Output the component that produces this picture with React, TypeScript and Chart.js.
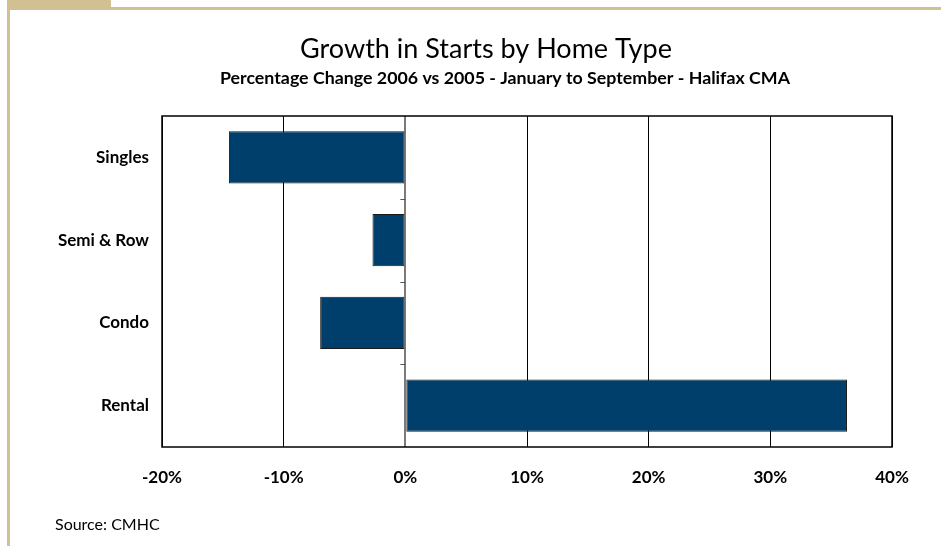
import React, { useEffect, useRef } from "react";
import { Chart, registerables } from "chart.js";

Chart.register(...registerables);

const categories = ["Singles", "Semi & Row", "Condo", "Rental"];
const changeValues = [-14.5, -2.7, -7.0, 36.3];
const xTickValues = [-20, -10, 0, 10, 20, 30, 40];
const titleText = "Growth in Starts by Home Type";
const subtitleText = "Percentage Change 2006 vs 2005 - January to September - Halifax CMA";
const sourceText = "Source: CMHC";

const FONT = "Lato, 'Open Sans', sans-serif";
const TAN = "#d0c092";

const framePlugin = {
  id: "frame",
  afterDraw(chart: any) {
    const { ctx, chartArea, scales } = chart;
    const xs = scales.x;
    const ys = scales.y;
    ctx.save();
    const x0 = xs.getPixelForValue(0);
    ctx.strokeStyle = "#555";
    ctx.lineWidth = 1;
    for (let i = 0; i < categories.length - 1; i++) {
      const y = (ys.getPixelForValue(i) + ys.getPixelForValue(i + 1)) / 2;
      ctx.beginPath();
      ctx.moveTo(x0 - 5, Math.round(y) + 0.5);
      ctx.lineTo(x0, Math.round(y) + 0.5);
      ctx.stroke();
    }
    ctx.strokeStyle = "#000";
    ctx.lineWidth = 1.5;
    ctx.strokeRect(chartArea.left, chartArea.top, chartArea.right - chartArea.left, chartArea.bottom - chartArea.top);

    // titles
    ctx.fillStyle = "#000";
    ctx.textAlign = "center";
    ctx.textBaseline = "alphabetic";
    ctx.font = `normal 27px ${FONT}`;
    ctx.fillText(titleText, 486, 58);
    ctx.font = `bold 17.8px ${FONT}`;
    ctx.fillText(subtitleText, 505, 84);
    ctx.restore();
  },
};

export default function App() {
  const ref = useRef<HTMLCanvasElement>(null);
  useEffect(() => {
    if (!ref.current) return;
    const chart = new Chart(ref.current, {
      type: "bar",
      data: {
        labels: categories,
        datasets: [
          {
            data: changeValues,
            backgroundColor: "#003f6b",
            borderColor: "#1a1a1a",
            borderWidth: 1,
            borderSkipped: false,
            barPercentage: 0.63,
            categoryPercentage: 1,
          },
        ],
      },
      options: {
        indexAxis: "y",
        animation: false,
        responsive: false,
        maintainAspectRatio: false,
        layout: { padding: { left: 0, right: 49, top: 116, bottom: 0 } },
        plugins: {
          legend: { display: false },
          tooltip: { enabled: false },
          title: { display: false },
        },
        scales: {
          x: {
            type: "linear",
            min: xTickValues[0],
            max: xTickValues[xTickValues.length - 1],
            afterBuildTicks: (scale: any) => {
              scale.ticks = xTickValues.map((v) => ({ value: v }));
            },
            afterFit: (scale: any) => {
              scale.height = 99;
            },
            ticks: {
              callback: (v: any) => v + "%",
              color: "#000",
              font: { family: FONT, size: 17, weight: "bold" },
              padding: 20,
              maxRotation: 0,
            },
            grid: {
              color: (c: any) => (c.tick && c.tick.value === 0 ? "#7a7a7a" : "#000"),
              lineWidth: (c: any) => (c.tick && c.tick.value === 0 ? 2 : 1),
              drawTicks: false,
            },
            border: { display: false },
          },
          y: {
            afterFit: (scale: any) => {
              scale.width = 162;
            },
            ticks: {
              color: "#000",
              font: { family: FONT, size: 17, weight: "bold" },
              padding: 13,
            },
            grid: { display: false, drawTicks: false },
            border: { display: false },
          },
        },
      },
      plugins: [framePlugin],
    });
    return () => chart.destroy();
  }, []);

  return (
    <div style={{ position: "absolute", left: 0, top: 0, width: 941, height: 546, background: "#fff", overflow: "hidden" }}>
      <div style={{ position: "absolute", left: 7, top: 0, width: 104, height: 8, background: TAN }} />
      <div style={{ position: "absolute", left: 7, top: 7, width: 934, height: 3, background: TAN }} />
      <div style={{ position: "absolute", left: 7, top: 7, width: 3, height: 539, background: TAN }} />
      <canvas ref={ref} width={941} height={546} style={{ position: "absolute", left: 0, top: 0 }} />
      <div
        style={{
          position: "absolute",
          left: 55,
          top: 514,
          fontFamily: FONT,
          fontSize: 16,
          color: "#000",
          whiteSpace: "nowrap",
        }}
      >
        {sourceText}
      </div>
    </div>
  );
}
